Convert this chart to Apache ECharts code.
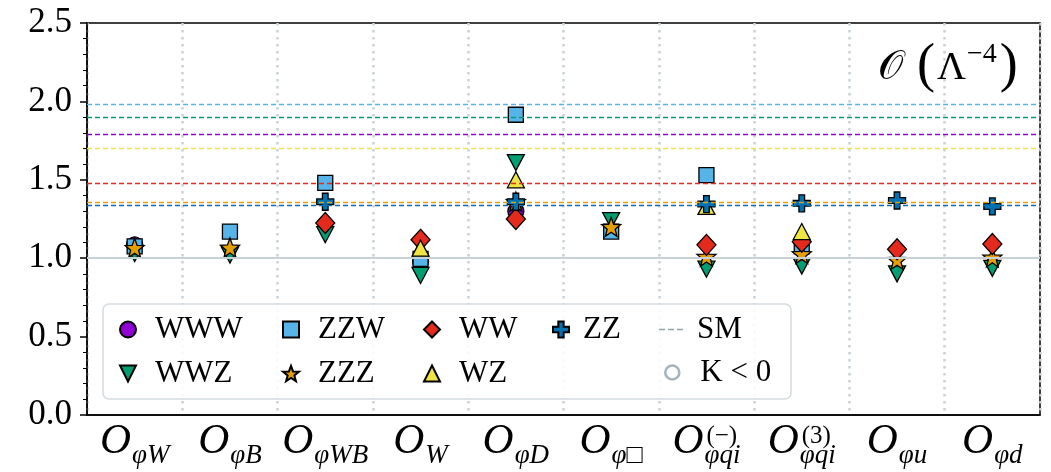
<!DOCTYPE html>
<html>
<head>
<meta charset="utf-8">
<script src="https://cdn.jsdelivr.net/npm/echarts@6/dist/echarts.min.js"></script>
<style>
html, body { margin: 0; padding: 0; background: #ffffff; }
#chart { width: 1051px; height: 472px; }
</style>
</head>
<body>
<div id="chart"></div>
<script>
// Operators on the x axis (subscript and superscript parts of each label)
const operators = ['O_φW', 'O_φB', 'O_φWB', 'O_W', 'O_φD', 'O_φ□', 'O_φqi(−)', 'O_φqi(3)', 'O_φu', 'O_φd'];
const subscripts = ['φW', 'φB', 'φWB', 'W', 'φD', 'φ□', 'φqi', 'φqi', 'φu', 'φd'];
const superscripts = ['', '', '', '', '', '', '(−)', '(3)', '', ''];

// y axis ticks
const yMin = 0, yMax = 2.5, yStep = 0.5;

// Processes and their ratios per operator (null = not shown)
const processes = ['WWW', 'WWZ', 'ZZW', 'ZZZ', 'WW', 'WZ', 'ZZ'];
const valWWW = [1.085, null, null, 0.98, 1.30, null, null, null, null, null];
const valWWZ = [1.03, 1.02, 1.15, 0.89, 1.61, 1.24, 0.93, 0.95, 0.90, 0.935];
const valZZW = [1.075, 1.17, 1.48, 0.995, 1.915, 1.17, 1.53, 1.075, null, null];
const valZZZ = [1.066, 1.068, null, null, 1.36, 1.20, 1.01, 1.027, 0.99, 1.005];
const valWW  = [null, null, 1.225, 1.117, 1.25, null, 1.085, 1.105, 1.057, 1.09];
const valWZ  = [null, null, null, 1.064, 1.50, null, 1.33, 1.17, null, null];
const valZZ  = [null, null, 1.36, null, 1.36, null, 1.345, 1.35, 1.368, 1.33];
const processValues = [valWWW, valWWZ, valZZW, valZZZ, valWW, valWZ, valZZ];

// SM reference levels per process (same order as processes)
const smValues = [1.789, 1.902, 1.978, 1.357, 1.478, 1.70, 1.345];
const unityLevel = 1.0;

const colors = ['#9000d2', '#009e73', '#56b4e9', '#e69f00', '#e42a1c', '#f0e442', '#0072b2'];
const starPath = 'path://M0,-10L2.47,-3.4L9.51,-3.09L3.99,1.3L5.88,8.09L0,4.2L-5.88,8.09L-3.99,1.3L-9.51,-3.09L-2.47,-3.4Z';
const plusPath = 'path://M-1,-3H1V-1H3V1H1V3H-1V1H-3V-1H-1Z';
const downTriPath = 'path://M-1,-1L1,-1L0,1Z';
const dashPath = 'path://M0,0H6V1.6H0Z M9,0H15V1.6H9Z M18,0H24V1.6H18Z';
const symbols = [
  { symbol: 'circle', size: 16, rotate: 0 },
  { symbol: 'triangle', size: [17, 16], rotate: 180 },
  { symbol: 'rect', size: 15, rotate: 0 },
  { symbol: starPath, size: 19, rotate: 0 },
  { symbol: 'diamond', size: [19, 21], rotate: 0 },
  { symbol: 'triangle', size: [17, 16], rotate: 0 },
  { symbol: plusPath, size: 17, rotate: 0 }
];

const FONT = 'Liberation Serif';
const chart = echarts.init(document.getElementById('chart'));

const scatterSeries = processes.map((name, k) => ({
  name: name,
  type: 'scatter',
  xAxisIndex: 0,
  z: 3,
  symbol: symbols[k].symbol,
  symbolSize: symbols[k].size,
  symbolRotate: symbols[k].rotate,
  itemStyle: { color: colors[k], borderColor: '#000', borderWidth: 1.3, opacity: 1 },
  emphasis: { disabled: true },
  data: processValues[k].map(v => (v === null ? '-' : v))
}));

// SM levels as dashed lines, plus the unity line
const smLines = smValues.map((v, k) => ({
  yAxis: v,
  lineStyle: { color: colors[k], type: [5, 3], width: 1.3, opacity: 1 }
}));
smLines.unshift({ yAxis: unityLevel, lineStyle: { color: '#c6d1d8', type: 'solid', width: 2, opacity: 1 } });

const smSeries = {
  name: 'SM',
  type: 'line',
  xAxisIndex: 0,
  z: 1,
  data: [],
  symbol: 'none',
  lineStyle: { color: '#8fa3ad', type: [4, 3], width: 1.5 },
  itemStyle: { color: '#8fa3ad' },
  markLine: {
    silent: true,
    symbol: ['none', 'none'],
    label: { show: false },
    emphasis: { disabled: true },
    data: smLines
  }
};

const kSeries = {
  name: 'K < 0',
  type: 'scatter',
  xAxisIndex: 0,
  symbol: 'circle',
  symbolSize: 14,
  itemStyle: { color: '#ffffff', borderColor: '#8fa3ad', borderWidth: 2.5 },
  data: []
};

function legendBlock(names, left, top, pad, iw, ih) {
  return {
    data: names,
    orient: 'vertical',
    left: left,
    top: top,
    padding: 0,
    itemGap: 13,
    itemWidth: iw,
    itemHeight: ih,
    z: 10,
    selectedMode: false,
    formatter: '{t|{name}}',
    textStyle: {
      color: '#000',
      rich: { t: { fontFamily: FONT, fontSize: 31, lineHeight: 30, color: '#000', padding: [0, 0, 0, pad] } }
    }
  };
}

const labelRich = {
  o: { fontFamily: FONT, fontStyle: 'italic', fontSize: 43, lineHeight: 44, color: '#000', verticalAlign: 'bottom', padding: [0, 1, 6, 0] },
  s: { fontFamily: FONT, fontStyle: 'italic', fontSize: 27, lineHeight: 28, color: '#000', verticalAlign: 'bottom' }
};

chart.setOption({
  animation: false,
  backgroundColor: '#ffffff',
  grid: { left: 87, right: 11, top: 23, bottom: 57, show: true, borderColor: '#000', borderWidth: 1.5, backgroundColor: 'transparent' },
  xAxis: [
    {
      type: 'category',
      data: operators,
      boundaryGap: true,
      axisLine: { lineStyle: { color: '#000', width: 1.5 } },
      axisTick: { show: false },
      splitLine: { show: true, lineStyle: { color: '#c9d2d8', width: 2.5, type: [2.5, 4.5] } },
      axisLabel: {
        interval: 0,
        margin: 10,
        formatter: (v, i) => '{o|O}{s|' + subscripts[i] + '}',
        rich: labelRich
      }
    },
    {
      type: 'category',
      data: operators,
      position: 'bottom',
      boundaryGap: true,
      axisLine: { show: false },
      axisTick: { show: false },
      splitLine: { show: false },
      axisLabel: {
        interval: 0,
        margin: 9,
        align: 'left',
        verticalAlign: 'top',
        fontFamily: FONT,
        fontSize: 25,
        color: '#000',
        formatter: (v, i) => superscripts[i]
      }
    }
  ],
  yAxis: {
    type: 'value',
    min: yMin,
    max: yMax,
    interval: yStep,
    axisLine: { show: true, lineStyle: { color: '#000', width: 1.5 } },
    axisTick: { show: true, length: 7, lineStyle: { color: '#000', width: 1.5 } },
    minorTick: { show: true, splitNumber: 5, length: 4, lineStyle: { color: '#000', width: 1 } },
    splitLine: { show: false },
    axisLabel: { fontFamily: FONT, fontSize: 35, color: '#000', margin: 15, formatter: v => v.toFixed(1) }
  },
  legend: [
    legendBlock(['WWW', { name: 'WWZ', icon: downTriPath }], 119, 314, 14, 16, 16),
    legendBlock(['ZZW', 'ZZZ'], 282, 314, 14, 16, 16),
    legendBlock(['WW', 'WZ'], 423, 314, 14, 16, 16),
    legendBlock(['ZZ'], 552, 314, 9, 16, 16),
    legendBlock([{ name: 'SM', icon: dashPath }], 659, 314, 9, 24, 2),
    legendBlock([{
      name: 'K < 0',
      icon: 'circle',
      itemStyle: { color: '#ffffff', borderColor: '#8fa3ad', borderWidth: 2.6 }
    }], 664, 357, 16, 14, 14)
  ],
  graphic: [
    {
      type: 'rect',
      z: 5,
      silent: true,
      shape: { x: 103, y: 304, width: 688, height: 95, r: 6 },
      style: { fill: 'rgba(255,255,255,0.85)', stroke: '#d3dbdf', lineWidth: 1.5 }
    },
    {
      type: 'text',
      z: 6,
      left: 878,
      top: 38,
      silent: true,
      style: {
        text: '{c|𝒪}{p|(}{l|Λ}{u|−4}{p|)}',
        rich: {
          c: { fontFamily: FONT, fontSize: 40, fill: '#000', verticalAlign: 'bottom', lineHeight: 42, padding: [0, 14, 6, 0] },
          p: { fontFamily: FONT, fontSize: 54, fill: '#000', verticalAlign: 'bottom', lineHeight: 56 },
          l: { fontFamily: FONT, fontSize: 40, fill: '#000', verticalAlign: 'bottom', lineHeight: 42, padding: [0, 1, 6, 2] },
          u: { fontFamily: FONT, fontSize: 28, fill: '#000', verticalAlign: 'top', lineHeight: 30, padding: [3, 3, 0, 0] }
        }
      }
    }
  ],
  series: [smSeries].concat(scatterSeries, [kSeries])
});
</script>
</body>
</html>
